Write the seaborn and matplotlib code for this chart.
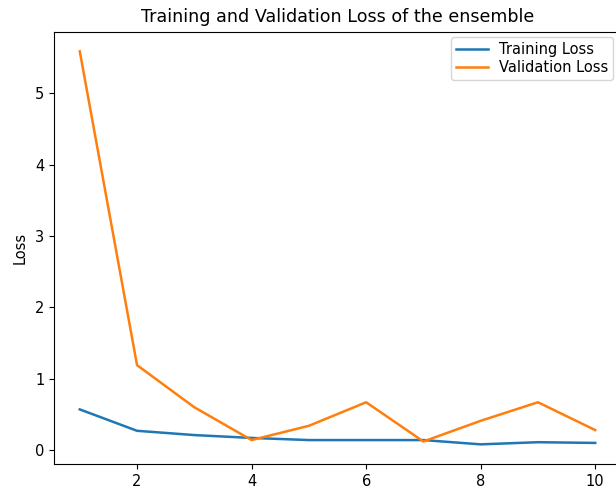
import matplotlib
matplotlib.use("Agg")
import matplotlib.pyplot as plt
import seaborn as sns
import pandas as pd

epochs = [1, 2, 3, 4, 5, 6, 7, 8, 9, 10]
training_loss = [0.57, 0.27, 0.21, 0.17, 0.14, 0.14, 0.14, 0.08, 0.11, 0.10]
validation_loss = [5.59, 1.19, 0.60, 0.14, 0.34, 0.67, 0.12, 0.41, 0.67, 0.28]
series_names = ["Training Loss", "Validation Loss"]
colors = ["#1f77b4", "#ff7f0e"]

df = pd.concat([
    pd.DataFrame({"Epochs": epochs, "Loss": training_loss, "series": series_names[0]}),
    pd.DataFrame({"Epochs": epochs, "Loss": validation_loss, "series": series_names[1]}),
])

plt.rcParams["font.family"] = ["DejaVu Sans"]
fig = plt.figure(figsize=(6.16, 4.94), dpi=100)
ax = fig.add_axes([54 / 616, (494 - 464) / 494, (621 - 54) / 616, (464 - 31.7) / 494])
sns.lineplot(data=df, x="Epochs", y="Loss", hue="series", palette=colors, ax=ax, linewidth=1.8)
ax.set_title("Training and Validation Loss of the ensemble", fontsize=12.6, pad=7)
ax.set_xlabel("Epochs", fontsize=10.5)
ax.set_ylabel("Loss", fontsize=10.5, labelpad=5)
ax.tick_params(labelsize=10.5)
ax.set_xticks([2, 4, 6, 8, 10])
ax.set_yticks([0, 1, 2, 3, 4, 5])
ax.legend(title=None, loc="upper right", fontsize=10.5, labelspacing=0.25,
          borderpad=0.3, handlelength=2.2, borderaxespad=0,
          bbox_to_anchor=(0.986, 0.987))
fig.savefig("out.png", dpi=100)
